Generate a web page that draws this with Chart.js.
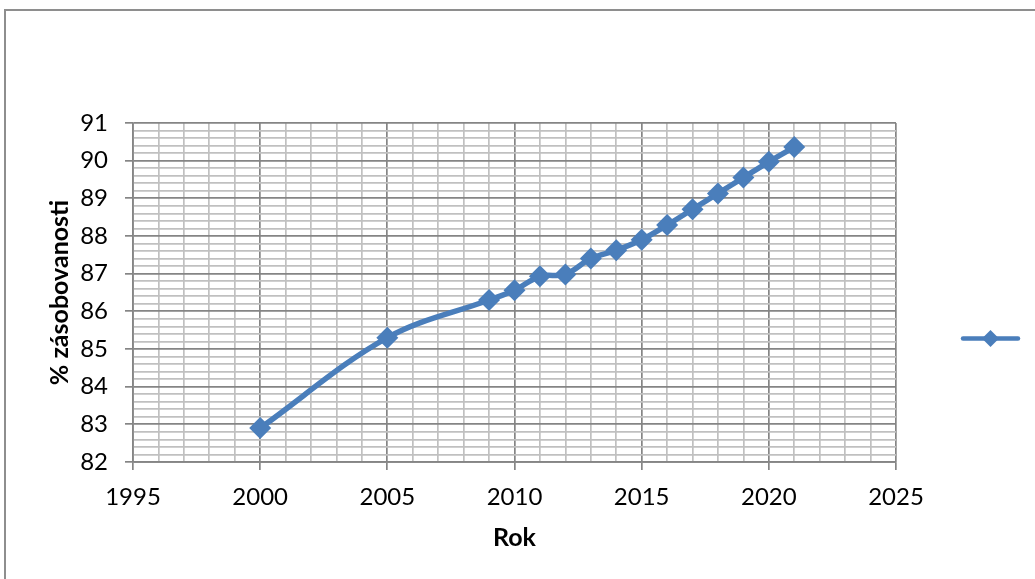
<!DOCTYPE html>
<html>
<head>
<meta charset="utf-8">
<script src="https://cdn.jsdelivr.net/npm/chart.js@4/dist/chart.umd.min.js"></script>
<style>
  html, body { margin: 0; padding: 0; background: #fff; overflow: hidden; }
  #frame { position: absolute; left: 4px; top: 9px; width: 1100px; height: 700px; border: 2px solid #8e8e8e; box-sizing: border-box; }
  #wrap { position: absolute; left: 0; top: 0; width: 1035px; height: 579px; }
</style>
</head>
<body>
<div id="frame"></div>
<div id="wrap"><canvas id="chartLine"></canvas></div>
<script>
// values
const years  = [2000, 2005, 2009, 2010, 2011, 2012, 2013, 2014, 2015, 2016, 2017, 2018, 2019, 2020, 2021];
const supply = [82.9, 85.3, 86.3, 86.56, 86.93, 86.98, 87.4, 87.62, 87.9, 88.29, 88.71, 89.13, 89.55, 89.97, 90.36];

const xMin = 1995, xMax = 2025;
const yMin = 82, yMax = 91;
const xTitle = 'Rok';
const yTitle = '% zásobovanosti';

const blue = '#4a7ebb';
const majorGrid = '#858585';
const minorGrid = '#c0c0c0';
const font = 'Lato, Calibri, Carlito, sans-serif';

const isMajorX = v => Math.abs(v % 5) < 1e-6;
const isMajorY = v => Math.abs(v - Math.round(v)) < 1e-6;

// draws the legend sample (line + diamond, no text) on the right
const legendSample = {
  id: 'legendSample',
  afterDraw(chart) {
    const ctx = chart.ctx;
    const area = chart.chartArea;
    const cy = (area.top + area.bottom) / 2 + 46;
    const x1 = area.right + 67, x2 = area.right + 122;
    const cx = (x1 + x2) / 2;
    ctx.save();
    ctx.strokeStyle = blue;
    ctx.lineWidth = 4.5;
    ctx.lineCap = 'round';
    ctx.beginPath();
    ctx.moveTo(x1, cy);
    ctx.lineTo(x2, cy);
    ctx.stroke();
    ctx.fillStyle = blue;
    const r = 8.5;
    ctx.beginPath();
    ctx.moveTo(cx, cy - r);
    ctx.lineTo(cx + r, cy);
    ctx.lineTo(cx, cy + r);
    ctx.lineTo(cx - r, cy);
    ctx.closePath();
    ctx.fill();
    ctx.restore();
  }
};

const data = {
  datasets: [{
    label: '',
    data: years.map((y, i) => ({ x: y, y: supply[i] })),
    borderColor: blue,
    backgroundColor: blue,
    borderWidth: 5.5,
    tension: 0.35,
    pointStyle: 'rectRot',
    pointRadius: 11,
    pointHoverRadius: 11,
    pointBorderWidth: 0
  }]
};

const config = {
  type: 'line',
  data,
  plugins: [legendSample],
  options: {
    responsive: true,
    maintainAspectRatio: false,
    animation: false,
    layout: { padding: { top: 123, right: 139, bottom: 0, left: 0 } },
    plugins: { legend: { display: false }, tooltip: { enabled: false } },
    scales: {
      x: {
        type: 'linear',
        min: xMin, max: xMax,
        afterFit(scale) { scale.height = 117; },
        ticks: {
          stepSize: 1,
          autoSkip: false,
          maxRotation: 0,
          padding: 13,
          color: '#000',
          font: { family: font, size: 24 },
          callback: v => isMajorX(v) ? String(v) : ''
        },
        grid: {
          color: c => isMajorX(c.tick.value) ? majorGrid : minorGrid,
          lineWidth: 1.7,
          tickLength: 8,
          tickColor: c => isMajorX(c.tick.value) ? majorGrid : 'rgba(0,0,0,0)'
        },
        border: { display: true, color: majorGrid, width: 1.7 },
        title: {
          display: true,
          text: xTitle,
          color: '#000',
          font: { family: font, size: 25, weight: 'bold' },
          padding: { top: 0, bottom: 26 }
        }
      },
      y: {
        type: 'linear',
        min: yMin, max: yMax,
        afterFit(scale) { scale.width = 133; },
        ticks: {
          stepSize: 0.2,
          autoSkip: false,
          padding: 17,
          color: '#000',
          font: { family: font, size: 24 },
          callback: v => isMajorY(v) ? String(Math.round(v)) : ''
        },
        grid: {
          color: c => isMajorY(c.tick.value) ? majorGrid : minorGrid,
          lineWidth: 1.7,
          tickLength: 8,
          tickColor: c => isMajorY(c.tick.value) ? majorGrid : 'rgba(0,0,0,0)'
        },
        border: { display: true, color: majorGrid, width: 1.7 },
        title: {
          display: true,
          text: yTitle,
          color: '#000',
          font: { family: font, size: 25, weight: 'bold' },
          padding: { top: 45, bottom: 0 }
        }
      }
    }
  }
};

new Chart(document.getElementById('chartLine'), config);
</script>
</body>
</html>
